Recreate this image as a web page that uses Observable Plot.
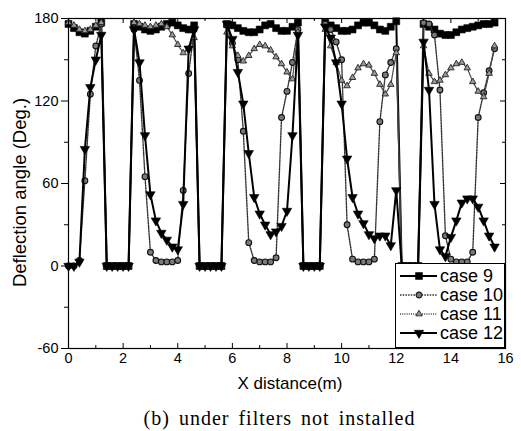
<!DOCTYPE html>
<html>
<head>
<meta charset="utf-8">
<script src="https://cdn.jsdelivr.net/npm/d3@7"></script>
<script src="https://cdn.jsdelivr.net/npm/@observablehq/plot@0.6"></script>
<style>
  body { margin: 0; background: #fff; }
  #chart { width: 521px; }
  #caption { font-family: "Liberation Serif", "Times New Roman", serif; font-size: 20px; line-height: 24px;
             text-align: center; width: 521px; box-sizing: border-box; padding-left: 38px; margin-top: 6px;
             letter-spacing: 1px; word-spacing: 3px; color: #000; }
</style>
</head>
<body>
<div id="chart"></div>
<div id="caption">(b) under filters not installed</div>
<script>
// ---- data ----
const xs = [0,0.2,0.4,0.6,0.8,1,1.2,1.4,1.6,1.8,2,2.2,2.4,2.6,2.8,3,3.2,3.4,3.6,3.8,4,4.2,4.4,4.6,4.8,5,5.2,5.4,5.6,5.8,6,6.2,6.4,6.6,6.8,7,7.2,7.4,7.6,7.8,8,8.2,8.4,8.6,8.8,9,9.2,9.4,9.6,9.8,10,10.2,10.4,10.6,10.8,11,11.2,11.4,11.6,11.8,12,12.2,12.4,12.6,12.8,13,13.2,13.4,13.6,13.8,14,14.2,14.4,14.6,14.8,15,15.2,15.4,15.6];

const case9 = [176,173,170,169,171,174,177,
  0,0,0,0,0,
  176,174,172,171,172,174,176,177,175,173,172,175,
  0,0,0,0,0,
  176,175,173,171,170,170,172,175,176,173,171,171,174,177,
  0,0,0,0,
  177,175,173,171,171,172,175,177,177,175,172,171,174,178,
  0,0,0,0,
  176,174,172,169,168,168,170,172,173,174,175,176,176,177];

const case10 = [0,0,4,62,125,160,176,
  0,0,0,0,0,
  172,135,65,10,4,3,3,3,4,55,140,172,
  0,0,0,0,0,
  175,162,150,98,17,4,3,3,3,6,108,127,148,172,
  0,0,0,0,
  176,172,163,150,30,5,3,3,3,5,105,139,148,158,
  0,0,0,0,
  177,176,168,128,22,5,3,3,3,10,108,126,142,158];

const case11 = [177,175,172,171,172,175,177,
  0,0,0,0,0,
  177,176,175,174,175,176,174,168,161,155,158,166,
  0,0,0,0,0,
  170,160,153,149,153,158,161,160,157,152,147,141,136,170,
  0,0,0,0,
  172,160,148,135,131,137,144,147,146,140,132,125,132,155,
  0,0,0,0,
  160,140,134,135,139,144,147,148,144,134,127,123,140,160];

const case12 = [0,0,3,85,130,150,168,
  0,0,0,0,0,
  172,148,95,52,33,24,19,14,12,45,158,172,
  0,0,0,0,0,
  176,165,141,118,82,50,38,30,23,25,29,40,95,168,
  0,0,0,0,
  174,166,148,118,78,50,38,31,23,20,22,22,15,55,
  0,0,0,0,
  163,128,45,12,7,21,33,46,49,49,43,33,22,14];

const seriesNames = ["case 9", "case 10", "case 11", "case 12"];
const xMajor = [0,2,4,6,8,10,12,14,16];
const xMinor = [1,3,5,7,9,11,13,15];
const yMajor = [-60,0,60,120,180];
const yMinor = [-30,30,90,150];
const xTitle = "X distance(m)";
const yTitle = "Deflection angle (Deg.)";

// ---- rendering ----
const downTriangle = {
  draw(ctx, size) {
    const h = Math.sqrt(size / (3 * Math.sqrt(3)));
    const w = Math.sqrt(3) * h;
    ctx.moveTo(0, 2 * h);
    ctx.lineTo(w, -h);
    ctx.lineTo(-w, -h);
    ctx.closePath();
  }
};

const styles = [
  {line: {stroke: "#000", strokeWidth: 2}, dot: {symbol: "square", r: 3.9, fill: "#000", stroke: "#000", strokeWidth: 0.6}},
  {line: {stroke: "#333", strokeWidth: 1.4, strokeDasharray: "1.5,1.2"}, dot: {symbol: "circle", r: 2.9, fill: "#7a7a7a", stroke: "#111", strokeWidth: 1.1}},
  {line: {stroke: "#444", strokeWidth: 1.3, strokeDasharray: "1,1.2"}, dot: {symbol: "triangle", r: 2.4, fill: "#999", stroke: "#222", strokeWidth: 0.9}},
  {line: {stroke: "#000", strokeWidth: 2}, dot: {symbol: downTriangle, r: 3.5, fill: "#000", stroke: "#000", strokeWidth: 0.6}}
];

const allY = [case9, case10, case11, case12];
const seriesMarks = allY.flatMap((ys, k) => {
  const rows = xs.map((x, i) => ({x, y: ys[i]}));
  return [
    Plot.line(rows, {x: "x", y: "y", ...styles[k].line}),
    Plot.dot(rows, {x: "x", y: "y", ...styles[k].dot})
  ];
});

const W = 521, H = 400, ML = 68, MR = 16, MT = 18, MB = 52;
const fw = W - ML - MR, fh = H - MT - MB;
const fmt = d => String(d);

const plot = Plot.plot({
  width: W, height: H,
  marginLeft: ML, marginRight: MR, marginTop: MT, marginBottom: MB,
  x: {domain: [0, 16]},
  y: {domain: [-60, 180]},
  style: {fontFamily: "'Liberation Sans', Arial, sans-serif", fontSize: "14.5px", color: "#000", background: "#fff"},
  marks: [
    ...seriesMarks,
    Plot.frame({stroke: "#000", strokeWidth: 1.2}),
    // left (outward) ticks and labels
    Plot.axisY(yMajor, {tickSize: 7, tickPadding: 3, tickFormat: fmt, label: null, fontSize: 14.5}),
    Plot.axisY(yMinor, {tickSize: 4, tickFormat: () => "", label: null}),
    // bottom labels, inward ticks
    Plot.axisX(xMajor, {tickSize: 0, tickPadding: 4, tickFormat: fmt, label: null, fontSize: 14.5}),
    Plot.ruleX(xMajor, {insetTop: fh - 5, stroke: "#000"}),
    Plot.ruleX(xMinor, {insetTop: fh - 3, stroke: "#000"}),
    // top and right mirror ticks (inward)
    Plot.ruleX(xMajor, {insetBottom: fh - 5, stroke: "#000"}),
    Plot.ruleX(xMinor, {insetBottom: fh - 3, stroke: "#000"}),
    Plot.ruleY(yMajor, {insetLeft: fw - 5, stroke: "#000"}),
    Plot.ruleY(yMinor, {insetLeft: fw - 3, stroke: "#000"}),
    // axis titles
    Plot.text([xTitle], {text: d => d, frameAnchor: "bottom", dx: 3, dy: 28, lineAnchor: "top", fontSize: 17}),
    Plot.text([yTitle], {text: d => d, frameAnchor: "left", rotate: -90, dx: -48.5, dy: 9, textAnchor: "middle", lineAnchor: "middle", fontSize: 18.5})
  ]
});

document.getElementById("chart").appendChild(plot);

// ---- legend (inside the frame, bottom right) ----
const svg = d3.select(plot);
const lg = svg.append("g").attr("font-family", "'Liberation Sans', Arial, sans-serif")
  .attr("font-size", 18).attr("text-anchor", "start");
lg.append("rect").attr("x", 395.5).attr("y", 263.5).attr("width", 109).attr("height", 84)
  .attr("fill", "#fff").attr("stroke", "#000").attr("stroke-width", 1);
const rowY = [276, 295, 314, 333];
const symObjs = [d3.symbolSquare, d3.symbolCircle, d3.symbolTriangle, downTriangle];
seriesNames.forEach((name, k) => {
  const y = rowY[k];
  const ls = styles[k].line, ds = styles[k].dot;
  lg.append("line").attr("x1", 400).attr("x2", 437).attr("y1", y).attr("y2", y)
    .attr("stroke", ls.stroke).attr("stroke-width", ls.strokeWidth)
    .attr("stroke-dasharray", ls.strokeDasharray || null);
  lg.append("path").attr("transform", `translate(419,${y})`)
    .attr("d", d3.symbol(symObjs[k], Math.PI * ds.r * ds.r)())
    .attr("fill", ds.fill).attr("stroke", ds.stroke).attr("stroke-width", ds.strokeWidth);
  lg.append("text").attr("x", 440).attr("y", y).attr("dy", "0.35em").attr("fill", "#000")
    .attr("text-anchor", "start").text(name);
});
</script>
</body>
</html>
